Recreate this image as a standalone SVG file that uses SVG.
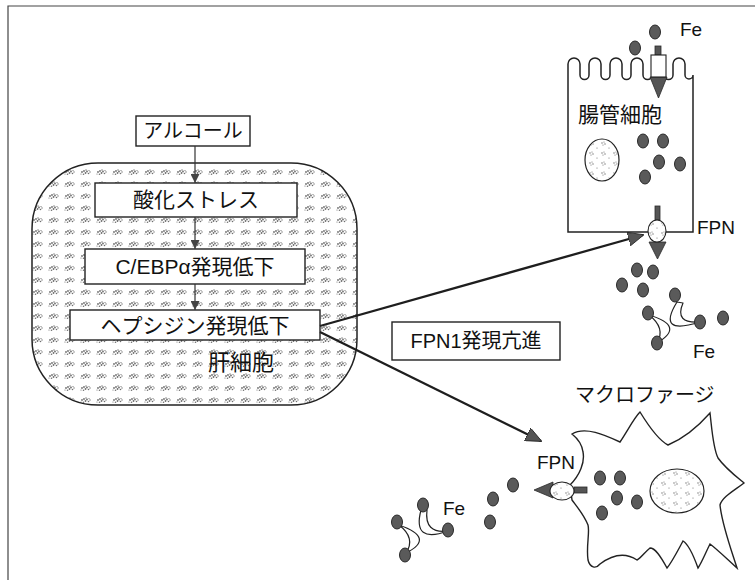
<svg xmlns="http://www.w3.org/2000/svg" width="755" height="580" viewBox="0 0 755 580">
  <style>
    .jp { font-family: "Liberation Sans", "Noto Sans CJK JP", sans-serif; fill: #111; }
    .box { fill: #fff; stroke: #222; stroke-width: 1.4; }
    .cell { fill: #fff; stroke: #222; stroke-width: 1.5; }
    .fe { fill: #5a5a5a; stroke: #2a2a2a; stroke-width: 1; }
    .tf { fill: #fff; stroke: #222; stroke-width: 1.2; stroke-linejoin: round; }
    .link { stroke: #1e1e1e; stroke-width: 2.3; fill: none; }
    .step { stroke: #333; stroke-width: 1.2; fill: none; }
    .dark { fill: #555; stroke: #2a2a2a; stroke-width: 0.8; }
    .speck { fill: #6e6e6e; }
  </style>
  <defs>
    <pattern id="stipple" width="16" height="12" patternUnits="userSpaceOnUse">
      <g class="speck">
        <circle cx="2" cy="4" r="0.9"/><circle cx="4" cy="3" r="0.9"/><circle cx="5.5" cy="5" r="0.9"/>
        <circle cx="7" cy="3.5" r="0.9"/><circle cx="3.5" cy="6.2" r="0.8"/><circle cx="8.5" cy="5.5" r="0.8"/>
        <circle cx="10" cy="4" r="0.7"/><circle cx="6" cy="2" r="0.7"/><circle cx="9" cy="2.5" r="0.6"/>
        <circle cx="1" cy="6" r="0.6"/>
      </g>
    </pattern>
    <pattern id="nucleus" width="12" height="10" patternUnits="userSpaceOnUse">
      <g class="speck">
        <circle cx="2" cy="3" r="0.7"/><circle cx="4" cy="2" r="0.6"/><circle cx="5" cy="4" r="0.7"/>
        <circle cx="3" cy="5" r="0.6"/><circle cx="9" cy="8" r="0.6"/>
      </g>
    </pattern>
    <marker id="head-s" viewBox="0 0 10 10" refX="10" refY="5" markerWidth="9" markerHeight="9" markerUnits="userSpaceOnUse" orient="auto">
      <path d="M0,0 L10,5 L0,10 Z" fill="#444"/>
    </marker>
    <marker id="head-l" viewBox="0 0 16 14" refX="15" refY="7" markerWidth="16" markerHeight="14" markerUnits="userSpaceOnUse" orient="auto">
      <path d="M0,0 L16,7 L0,14 Z" fill="#555" stroke="#222" stroke-width="0.8"/>
    </marker>
  </defs>

  <rect width="755" height="580" fill="#fff"/>
  <!-- frame -->
  <path d="M8,580 L8,6 L755,6" fill="none" stroke="#444" stroke-width="1.2"/>

  <!-- hepatocyte -->
  <g id="hepatocyte">
    <rect x="32" y="163" width="325" height="242" rx="66" ry="66" fill="#fff"/>
    <rect x="32" y="163" width="325" height="242" rx="66" ry="66" fill="url(#stipple)" stroke="#222" stroke-width="1.5"/>
    <text class="jp" x="241" y="370" font-size="22" text-anchor="middle">肝細胞</text>
  </g>

  <g id="alcohol">
    <rect class="box" x="136" y="116" width="114" height="30"/>
    <text class="jp" x="193" y="138" font-size="20" text-anchor="middle">アルコール</text>
  </g>
  <g id="oxidative-stress">
    <rect class="box" x="95" y="183" width="202" height="34"/>
    <text class="jp" x="196" y="207" font-size="21" text-anchor="middle">酸化ストレス</text>
  </g>
  <g id="cebp">
    <rect class="box" x="85" y="249" width="220" height="35"/>
    <text class="jp" x="195" y="274" font-size="21" text-anchor="middle">C/EBPα発現低下</text>
  </g>
  <g id="hepcidin">
    <rect class="box" x="70" y="310" width="250" height="30"/>
    <text class="jp" x="195" y="333" font-size="21" text-anchor="middle">ヘプシジン発現低下</text>
  </g>
  <g id="fpn1-up">
    <rect class="box" x="392" y="322" width="168" height="38"/>
    <text class="jp" x="476" y="348" font-size="20" text-anchor="middle">FPN1発現亢進</text>
  </g>

  <!-- connectors -->
  <g id="connectors">
    <line class="step" x1="195" y1="146" x2="195" y2="183" marker-end="url(#head-s)"/>
    <line class="step" x1="195" y1="217" x2="195" y2="249" marker-end="url(#head-s)"/>
    <line class="step" x1="195" y1="284" x2="195" y2="310" marker-end="url(#head-s)"/>
    <line class="link" x1="320" y1="326" x2="643" y2="235" marker-end="url(#head-l)"/>
    <line class="link" x1="320" y1="332" x2="541" y2="441" marker-end="url(#head-l)"/>
  </g>

  <!-- intestinal epithelial cell -->
  <g id="enterocyte">
    <path class="cell" d="M568,232 L568,64
      A6,6 0 0 1 580,64 L580,75 A4.5,4.5 0 0 0 589,75 L589,64
      A6,6 0 0 1 601,64 L601,75 A4.5,4.5 0 0 0 610,75 L610,64
      A6,6 0 0 1 622,64 L622,75 A4.5,4.5 0 0 0 631,75 L631,64
      A6,6 0 0 1 643,64 L643,75 A4.5,4.5 0 0 0 652,75 L652,64
      A6,6 0 0 1 664,64 L664,75 A4.5,4.5 0 0 0 673,75 L673,64
      A6,6 0 0 1 685,64 L685,75 A4,4 0 0 0 693,75 L693,232 Z"/>
    <text class="jp" x="578" y="122" font-size="21">腸管細胞</text>
    <ellipse cx="602" cy="160" rx="17" ry="21" fill="#fff" stroke="#222" stroke-width="1.2"/>
    <ellipse cx="602" cy="160" rx="16" ry="20" fill="url(#nucleus)"/>
    <!-- apical importer -->
    <rect class="dark" x="655" y="46" width="6" height="9"/>
    <path d="M650,77 L667,77 L658.5,98 Z" fill="#555" stroke="#2a2a2a" stroke-width="0.8"/>
    <rect x="651" y="55" width="15" height="22" fill="#fff" stroke="#222" stroke-width="1.1"/>
    <!-- basolateral ferroportin -->
    <rect class="dark" x="655" y="206" width="5" height="14"/>
    <path d="M649,242 L666,242 L657.5,259 Z" fill="#555" stroke="#2a2a2a" stroke-width="0.8"/>
    <ellipse cx="657" cy="231" rx="9" ry="11" fill="#fff" stroke="#222" stroke-width="1.1"/>
    <ellipse cx="657" cy="231" rx="8" ry="10" fill="url(#nucleus)"/>
    <text class="jp" x="697" y="234" font-size="19">FPN</text>
    <text class="jp" x="680" y="36" font-size="19">Fe</text>
    <g class="fe">
      <ellipse cx="655" cy="32" rx="5.5" ry="7"/>
      <ellipse cx="635" cy="48" rx="5.5" ry="7"/>
      <ellipse cx="643" cy="141" rx="5.5" ry="7"/>
      <ellipse cx="663" cy="141" rx="5.5" ry="7"/>
      <ellipse cx="659" cy="162" rx="5.5" ry="7"/>
      <ellipse cx="680" cy="164" rx="5.5" ry="7"/>
      <ellipse cx="645" cy="177" rx="5.5" ry="7"/>
    </g>
    <!-- released iron and transferrin -->
    <path class="tf" d="M649,315 Q686,326 657,343 Q666,328 649,315 Z"/>
    <path class="tf" d="M677,302 Q656,336 700,322 Q674,324 683,303 Z"/>
    <g class="fe">
      <ellipse cx="637" cy="270" rx="5.5" ry="7"/>
      <ellipse cx="653" cy="272" rx="5.5" ry="7"/>
      <ellipse cx="622" cy="285" rx="5.5" ry="7"/>
      <ellipse cx="643" cy="290" rx="5.5" ry="7"/>
      <ellipse cx="675" cy="295" rx="5.5" ry="7"/>
      <ellipse cx="648" cy="313" rx="5.5" ry="7"/>
      <ellipse cx="700" cy="322" rx="5.5" ry="7"/>
      <ellipse cx="723" cy="318" rx="5.5" ry="7"/>
      <ellipse cx="657" cy="343" rx="5.5" ry="7"/>
    </g>
    <text class="jp" x="693" y="358" font-size="19">Fe</text>
  </g>

  <!-- macrophage -->
  <g id="macrophage">
    <text class="jp" x="575" y="402" font-size="20">マクロファージ</text>
    <path fill="#fff" stroke="#222" stroke-width="1.4" d="M570,485
      C580,475 585,462 583,452 C582,444 577,438 572,434
      C585,426 605,435 620,442 C628,430 634,418 640,412
      C648,425 658,440 668,445 C680,440 695,430 710,413
      C712,430 713,448 718,458 C725,468 738,478 744,483
      C735,490 722,497 720,505 C722,525 732,552 737,568
      C728,560 718,550 710,544 C705,554 702,562 698,568
      C693,554 688,544 683,541 C677,552 672,562 667,568
      C660,555 655,548 650,548 C645,552 641,558 637,560
      C625,552 612,555 600,564 C596,569 590,568 588,560
      C586,546 590,532 588,525 C584,515 578,508 572,500 Z"/>
    <ellipse cx="677" cy="491" rx="27" ry="22" fill="#fff" stroke="#222" stroke-width="1.2"/>
    <ellipse cx="677" cy="491" rx="26" ry="21" fill="url(#nucleus)"/>
    <g class="fe">
      <ellipse cx="600" cy="478" rx="5.5" ry="7"/>
      <ellipse cx="620" cy="478" rx="5.5" ry="7"/>
      <ellipse cx="617" cy="498" rx="5.5" ry="7"/>
      <ellipse cx="637" cy="502" rx="5.5" ry="7"/>
      <ellipse cx="602" cy="513" rx="5.5" ry="7"/>
    </g>
    <!-- ferroportin exporting iron -->
    <rect class="dark" x="574" y="487" width="13" height="6"/>
    <path d="M553,482 L553,498 L534,490 Z" fill="#555" stroke="#2a2a2a" stroke-width="0.8"/>
    <ellipse cx="562" cy="491" rx="12" ry="9" fill="#fff" stroke="#222" stroke-width="1.1"/>
    <ellipse cx="562" cy="491" rx="11" ry="8" fill="url(#nucleus)"/>
    <text class="jp" x="537" y="469" font-size="19">FPN</text>
    <path class="tf" d="M399,525 Q436,538 406,553 Q416,538 399,525 Z"/>
    <path class="tf" d="M421,510 Q412,544 448,531 Q424,534 427,510 Z"/>
    <g class="fe">
      <ellipse cx="513" cy="485" rx="5.5" ry="7"/>
      <ellipse cx="493" cy="499" rx="5.5" ry="7"/>
      <ellipse cx="490" cy="522" rx="5.5" ry="7"/>
      <ellipse cx="423" cy="505" rx="5.5" ry="7"/>
      <ellipse cx="397" cy="522" rx="5.5" ry="7"/>
      <ellipse cx="448" cy="530" rx="5.5" ry="7"/>
      <ellipse cx="405" cy="555" rx="5.5" ry="7"/>
    </g>
    <text class="jp" x="443" y="515" font-size="19">Fe</text>
  </g>
</svg>
